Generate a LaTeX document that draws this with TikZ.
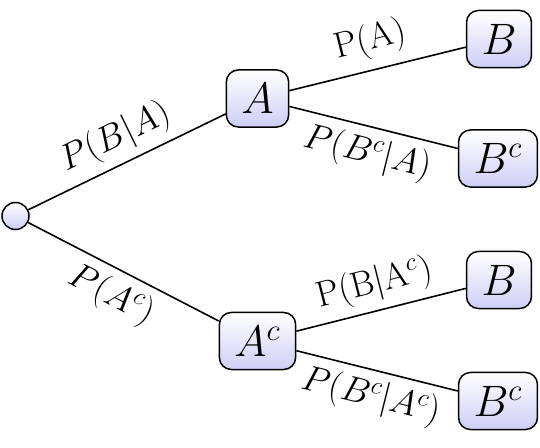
\RequirePackage{fix-cm}
\documentclass[tikz,border=0pt]{standalone}
\begin{document}
\definecolor{lav}{RGB}{206,206,246}
\tikzset{
  box/.style={draw, line width=0.75pt, rounded corners=6pt, top color=white, bottom color=lav,
    inner xsep=7.5pt, inner ysep=6.75pt, minimum height=28.5pt,
    font=\fontsize{22}{26}\selectfont},
  rootnode/.style={draw, line width=0.75pt, circle, minimum size=13.5pt, inner sep=0pt,
    top color=white, bottom color=lav},
  edge/.style={line width=0.8pt},
  lab/.style={font=\fontsize{18}{21}\selectfont, sloped, midway, inner sep=2.5pt},
}
\begin{tikzpicture}[x=0.5pt,y=-0.5pt]
\useasboundingbox (0,0) rectangle (540,448);
\node[rootnode] (r) at (15.5,216) {};
\node[box] (a) at (257.5,98.5) {$A$};
\node[box] (ac) at (257.5,341) {$A^c$};
\node[box] (b1) at (499,39) {$B$};
\node[box] (bc1) at (498,158.5) {$B^c$};
\node[box] (b2) at (499,280) {$B$};
\node[box] (bc2) at (498,401) {$B^c$};
\draw[edge] (r) -- node[lab, above=1.5pt] {$P(B|A)$} (a);
\draw[edge] (r) -- node[lab, below=1.5pt] {$P(A^c)$} (ac);
\draw[edge] (a) -- node[lab, above=2.5pt] {P(A)} (b1);
\draw[edge] (a) -- node[lab, below=1.5pt] {$P(B^c|A)$} (bc1);
\draw[edge] (ac) -- node[lab, above=1.5pt] {$\mathrm{P}(\mathrm{B}|\mathrm{A}^c)$} (b2);
\draw[edge] (ac) -- node[lab, below=1.5pt] {$P(B^c|A^c)$} (bc2);
\end{tikzpicture}
\end{document}
